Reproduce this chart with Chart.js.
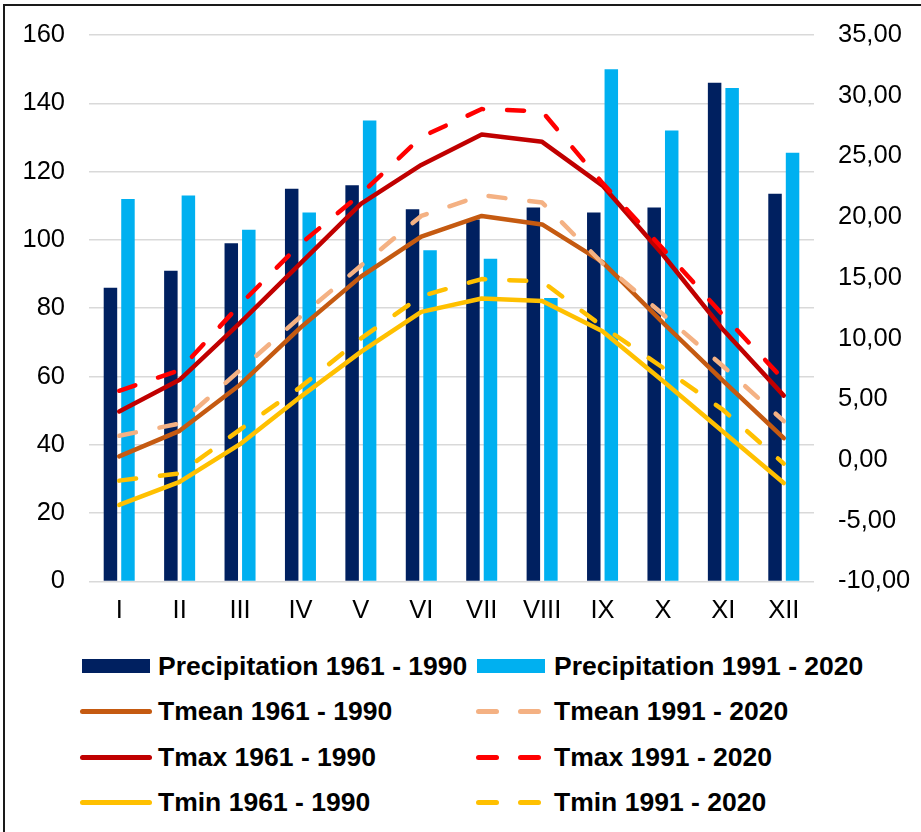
<!DOCTYPE html>
<html><head><meta charset="utf-8">
<script src="https://cdn.jsdelivr.net/npm/chart.js@4.4.1/dist/chart.umd.min.js"></script>
<style>
html,body{margin:0;padding:0;background:#fff;width:921px;height:832px;overflow:hidden;font-family:"Liberation Sans",Arial,sans-serif;}
#frame{position:absolute;left:3px;top:4px;width:940px;height:850px;border-left:2px solid #1a1a1a;border-top:2px solid #1a1a1a;pointer-events:none;}
#wrap{position:absolute;left:0;top:0;width:921px;height:640px;}
.item{position:absolute;display:flex;align-items:center;height:40px;font-weight:bold;font-size:26.5px;color:#000;white-space:nowrap;}
.sw{position:relative;flex:none;}
</style></head>
<body>
<div id="wrap"><canvas id="c"></canvas></div>
<div id="legend"></div>
<div id="frame"></div>
<script>
const months = ['I','II','III','IV','V','VI','VII','VIII','IX','X','XI','XII'];
const precip6190 = [86, 91, 99, 115, 116, 109, 106, 109.5, 108, 109.5, 146, 113.5];
const precip9120 = [112, 113, 103, 108, 135, 97, 94.5, 83, 150, 132, 144.5, 125.5];
const tmean6190 = [0.3, 2.4, 6.2, 10.9, 15.1, 18.4, 20.1, 19.4, 16.3, 11.3, 6.5, 1.8];
const tmean9120 = [2.0, 3.0, 7.4, 11.8, 16.0, 20.1, 21.8, 21.2, 16.2, 12.0, 7.7, 3.2];
const tmax6190 = [4.0, 6.6, 11.3, 16.2, 21.1, 24.3, 26.8, 26.2, 22.6, 16.9, 10.7, 5.3];
const tmax9120 = [5.7, 7.4, 12.8, 17.8, 21.9, 26.6, 28.9, 28.7, 22.8, 17.4, 11.9, 6.6];
const tmin6190 = [-3.7, -1.8, 1.3, 5.2, 8.9, 12.2, 13.3, 13.1, 10.6, 6.5, 2.3, -1.9];
const tmin9120 = [-1.7, -1.1, 2.5, 6.0, 10.0, 13.5, 14.9, 14.7, 11.0, 7.6, 4.1, -0.3];
const leftTicks = [0, 20, 40, 60, 80, 100, 120, 140, 160];
const rightTicks = ['-10,00','-5,00','0,00','5,00','10,00','15,00','20,00','25,00','30,00','35,00'];

const FONT = '"Liberation Sans", Arial, sans-serif';
const tickFont = {family: FONT, size: 25.5};

function lineDs(label, data, color, dashed) {
  return {
    type: 'line', label, data, yAxisID: 'y1',
    borderColor: color, backgroundColor: color,
    borderWidth: 4.5, pointRadius: 0, pointHoverRadius: 0, tension: 0, fill: false,
    borderCapStyle: 'round', borderJoinStyle: 'round',
    borderDash: dashed ? [17, 24] : [],
    order: dashed ? 1 : 5
  };
}
const datasets = [
  {type: 'bar', label: 'Precipitation 1961 - 1990', data: precip6190, backgroundColor: '#002060', yAxisID: 'y', order: 10,
   categoryPercentage: 0.58, barPercentage: 0.77},
  {type: 'bar', label: 'Precipitation 1991 - 2020', data: precip9120, backgroundColor: '#00B0F0', yAxisID: 'y', order: 10,
   categoryPercentage: 0.58, barPercentage: 0.77},
  lineDs('Tmean 1961 - 1990', tmean6190, '#C55A11', false),
  lineDs('Tmean 1991 - 2020', tmean9120, '#F4B183', true),
  lineDs('Tmax 1961 - 1990', tmax6190, '#C00000', false),
  lineDs('Tmax 1991 - 2020', tmax9120, '#FF0000', true),
  lineDs('Tmin 1961 - 1990', tmin6190, '#FFC000', false),
  lineDs('Tmin 1991 - 2020', tmin9120, '#FFC000', true)
];

new Chart(document.getElementById('c'), {
  data: {labels: months, datasets},
  options: {
    responsive: true, maintainAspectRatio: false, animation: false, devicePixelRatio: 1,
    layout: {padding: {top: 35, bottom: 0, left: 0, right: 0}},
    plugins: {legend: {display: false}, tooltip: {enabled: false}},
    events: [],
    scales: {
      x: {
        offset: true,
        grid: {display: false, drawTicks: false},
        border: {display: false},
        ticks: {font: tickFont, color: '#000', padding: 14, maxRotation: 0, autoSkip: false}
      },
      y: {
        position: 'left', min: leftTicks[0], max: leftTicks[leftTicks.length - 1],
        afterBuildTicks: s => { s.ticks = leftTicks.map(v => ({value: v})); },
        grid: {color: '#d9d9d9', lineWidth: 1.5, drawTicks: true, tickLength: 24, tickColor: 'rgba(0,0,0,0)'},
        border: {display: false},
        ticks: {font: tickFont, color: '#000', padding: 0},
        afterFit: s => { s.width = 89; }
      },
      y1: {
        position: 'right', min: -10, max: 35,
        afterBuildTicks: s => { s.ticks = rightTicks.map(t => ({value: parseFloat(t.replace(',', '.'))})); },
        grid: {display: true, drawOnChartArea: false, color: 'rgba(0,0,0,0)', drawTicks: true, tickLength: 24, tickColor: 'rgba(0,0,0,0)'},
        border: {display: false},
        ticks: {font: tickFont, color: '#000', padding: 0,
          callback: (v) => rightTicks.find(t => parseFloat(t.replace(',', '.')) === v)},
        afterFit: s => { s.width = 107; }
      }
    }
  }
});

// HTML legend laid out as in the reference (two columns, four rows)
const legendEl = document.getElementById('legend');
const rowsY = [666, 711, 757, 802];
const colX = [80, 476];
const layout = [[0, 1], [2, 3], [4, 5], [6, 7]];
layout.forEach((row, r) => {
  row.forEach((di, c) => {
    const ds = datasets[di];
    const item = document.createElement('div');
    item.className = 'item';
    item.style.left = colX[c] + 'px';
    item.style.top = (rowsY[r] - 20) + 'px';
    const sw = document.createElement('div');
    sw.className = 'sw';
    if (ds.type === 'bar') {
      sw.style.width = '68px'; sw.style.height = '14px';
      sw.style.marginLeft = (c === 0 ? 2 : 1) + 'px';
      sw.style.marginRight = (c === 0 ? 8 : 9) + 'px';
      sw.style.background = ds.backgroundColor;
    } else if (!ds.borderDash.length) {
      sw.style.width = '72px'; sw.style.height = '5px';
      sw.style.borderRadius = '3px';
      sw.style.marginRight = '6px';
      sw.style.background = ds.borderColor;
    } else {
      sw.style.width = '70px'; sw.style.height = '5px';
      sw.style.marginRight = '8px';
      [0, 42].forEach(x => {
        const d = document.createElement('div');
        d.style.cssText = 'position:absolute;top:0;height:5px;width:23px;border-radius:3px;left:' + x + 'px;background:' + ds.borderColor;
        sw.appendChild(d);
      });
    }
    const tx = document.createElement('span');
    tx.textContent = ds.label;
    item.appendChild(sw);
    item.appendChild(tx);
    legendEl.appendChild(item);
  });
});
</script>
</body></html>
